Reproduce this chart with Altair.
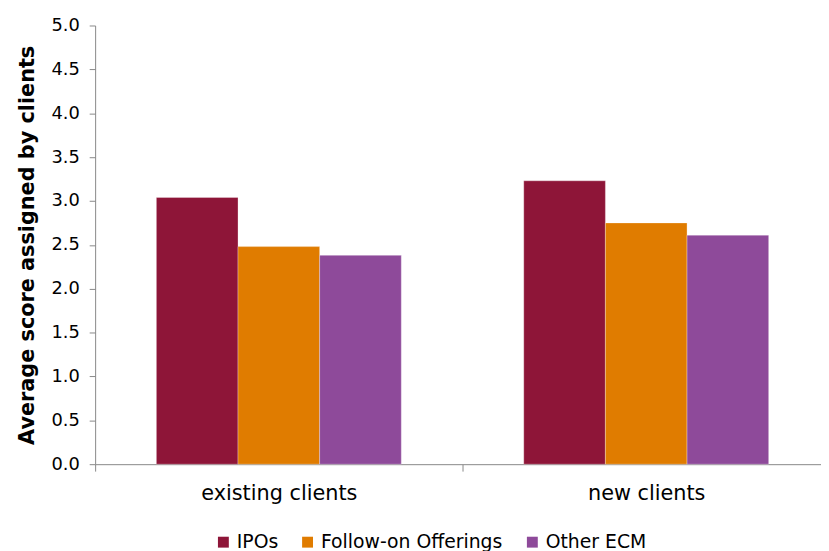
import altair as alt
import pandas as pd

groups = ["existing clients", "new clients"]
series = ["IPOs", "Follow-on Offerings", "Other ECM"]
ipos = [3.04, 3.23]
follow_on = [2.48, 2.75]
other_ecm = [2.38, 2.61]
colors = ["#8E1538", "#E07C00", "#8E4A9A"]
y_ticks = [0, 0.5, 1.0, 1.5, 2.0, 2.5, 3.0, 3.5, 4.0, 4.5, 5.0]

rows = []
for i, g in enumerate(groups):
    for s, vals in zip(series, [ipos, follow_on, other_ecm]):
        rows.append({"group": g, "series": s, "value": vals[i]})
df = pd.DataFrame(rows)

font = "DejaVu Sans"

chart = alt.Chart(df).mark_bar(stroke="white", strokeWidth=0.5, strokeOpacity=0.6).encode(
    x=alt.X("group:N", sort=groups,
            scale=alt.Scale(paddingInner=0, paddingOuter=0, range=[0, 742]),
            axis=alt.Axis(title=None, labelAngle=0, tickBand="extent", ticks=True,
                          tickSize=7, labelPadding=12, labelFontSize=21,
                          labelColor="#000", labelFont=font,
                          domainColor="#888", tickColor="#888")),
    xOffset=alt.XOffset("series:N", sort=series,
                        scale=alt.Scale(paddingOuter=0.75, paddingInner=0)),
    y=alt.Y("value:Q",
            scale=alt.Scale(domain=[0, 5]),
            axis=alt.Axis(title="Average score assigned by clients", values=y_ticks,
                          format=".1f", grid=False, tickSize=6, labelPadding=10,
                          labelFontSize=18, labelColor="#000", labelFont=font,
                          titleFont=font, titleFontSize=21, titleFontWeight="bold",
                          titleColor="#000", titlePadding=14,
                          domainColor="#888", tickColor="#888")),
    color=alt.Color("series:N", sort=series,
                    scale=alt.Scale(domain=series, range=colors),
                    legend=alt.Legend(title=None, orient="none", direction="horizontal",
                                      legendX=120, legendY=512,
                                      symbolType="square", symbolSize=121,
                                      symbolStrokeWidth=0, labelFontSize=19,
                                      labelFont=font, labelColor="#000", labelLimit=0,
                                      columnPadding=20, symbolOffset=0,
                                      labelOffset=4)),
).properties(
    width=733, height=443,
    autosize=alt.AutoSizeParams(type="none"),
    padding={"left": 88, "top": 15, "right": 0, "bottom": 86},
).configure_view(stroke=None)

chart.save("out.html", embed_options={"renderer": "svg", "actions": False})
